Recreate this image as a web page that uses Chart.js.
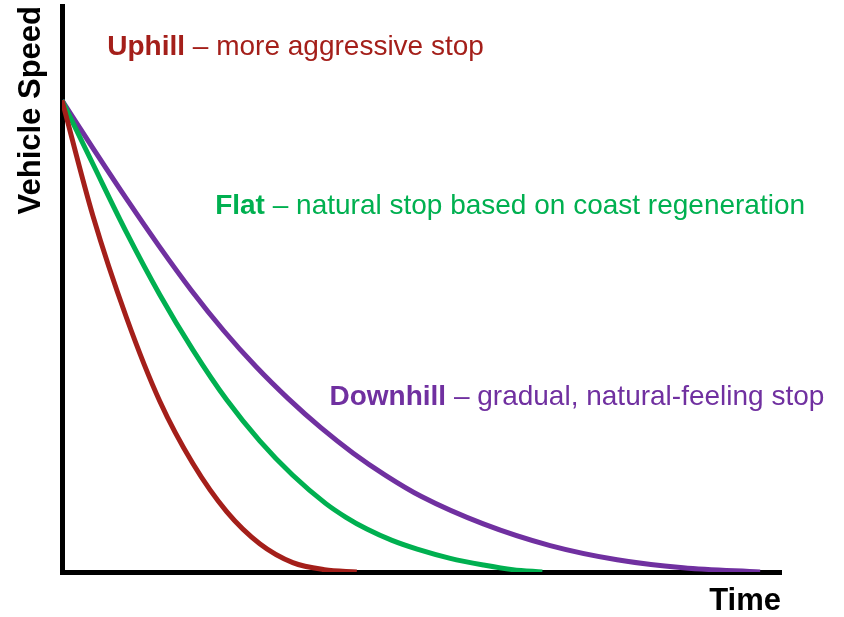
<!DOCTYPE html>
<html>
<head>
<meta charset="utf-8">
<script src="https://cdn.jsdelivr.net/npm/chart.js@4"></script>
<style>
  html, body { margin: 0; padding: 0; background: #fff; }
  #wrap { width: 844px; height: 617px; }
</style>
</head>
<body>
<div id="wrap"><canvas id="chart" width="844" height="617"></canvas></div>
<script>
// valores (tiempo en unidades relativas 0-100, velocidad 0-120)
const uphillTime  = [0, 4.3, 9.0, 13.6, 18.2, 22.9, 27.5, 32.1, 36.5, 41.0];
const uphillSpeed = [100, 75.5, 53.8, 36.2, 23.0, 12.8, 6.0, 2.0, 0.5, 0];

const flatTime  = [0, 4.3, 9.0, 13.6, 18.2, 22.9, 27.5, 32.1, 36.7, 39.5, 42.4, 45.9, 49.4, 54.0, 58.6, 62.7, 66.8];
const flatSpeed = [100, 86.5, 71.9, 58.8, 47.1, 36.5, 27.8, 20.5, 14.5, 11.6, 9.1, 6.7, 4.85, 2.9, 1.5, 0.5, 0];

const downhillTime  = [0, 4.5, 9.0, 13.5, 18.0, 22.5, 27.0, 31.5, 36.0, 40.5, 45.0, 50.0, 58.6, 67.9, 77.2, 86.4, 97.1];
const downhillSpeed = [100, 89.4, 79.05, 69.1, 59.7, 51.15, 43.5, 36.7, 30.6, 25.2, 20.5, 16.0, 10.2, 5.6, 2.6, 0.9, 0];

const seriesNames = ["Uphill", "Flat", "Downhill"];
const seriesNotes = [" – more aggressive stop", " – natural stop based on coast regeneration", " – gradual, natural-feeling stop"];
const seriesColors = ["#A41F1A", "#00B050", "#7030A0"];

// donde va cada texto (en unidades de los ejes)
const noteTime  = [6.3, 21.3, 37.2];
const noteSpeed = [109.7, 75.8, 35.4];

const FONT = "'Liberation Sans', Arial, Helvetica, sans-serif";

function toPoints(xs, ys) {
  return xs.map((x, i) => ({ x: x, y: ys[i] }));
}

const notesPlugin = {
  id: "notes",
  afterDatasetsDraw(chart) {
    const { ctx, scales: { x, y } } = chart;
    ctx.save();
    ctx.textBaseline = "alphabetic";
    ctx.textAlign = "left";
    seriesNames.forEach((name, i) => {
      const px = x.getPixelForValue(noteTime[i]);
      const py = y.getPixelForValue(noteSpeed[i]);
      ctx.fillStyle = seriesColors[i];
      ctx.font = "bold 28px " + FONT;
      ctx.fillText(name, px, py);
      const w = ctx.measureText(name).width;
      ctx.font = "28px " + FONT;
      ctx.fillText(seriesNotes[i], px + w, py);
    });
    ctx.restore();
  }
};

const lines = [
  toPoints(uphillTime, uphillSpeed),
  toPoints(flatTime, flatSpeed),
  toPoints(downhillTime, downhillSpeed)
];

new Chart(document.getElementById("chart").getContext("2d"), {
  type: "line",
  data: {
    datasets: lines.map((pts, i) => ({
      label: seriesNames[i],
      data: pts,
      borderColor: seriesColors[i],
      backgroundColor: seriesColors[i],
      borderWidth: 5,
      pointRadius: 0,
      cubicInterpolationMode: "monotone",
      fill: false
    }))
  },
  options: {
    responsive: false,
    animation: false,
    layout: { padding: { top: 6, right: 63, bottom: 0, left: 0 } },
    plugins: {
      legend: { display: false },
      tooltip: { enabled: false }
    },
    scales: {
      x: {
        type: "linear",
        min: 0,
        max: 100,
        grid: { display: false },
        ticks: { display: false },
        border: { display: true, color: "#000", width: 5 },
        title: {
          display: true,
          text: "Time",
          align: "end",
          color: "#000",
          font: { family: FONT, size: 31, weight: "bold", lineHeight: 1 },
          padding: { top: 0, bottom: 0 }
        },
        afterFit: s => { s.height = 45; }
      },
      y: {
        type: "linear",
        min: 0,
        max: 120,
        grid: { display: false },
        ticks: { display: false },
        border: { display: true, color: "#000", width: 5 },
        title: {
          display: true,
          text: "Vehicle Speed",
          align: "end",
          color: "#000",
          font: { family: FONT, size: 31, weight: "bold", lineHeight: 1 },
          padding: { top: 16, bottom: 0 }
        },
        afterFit: s => { s.width = 62; }
      }
    }
  },
  plugins: [notesPlugin]
});
</script>
</body>
</html>
